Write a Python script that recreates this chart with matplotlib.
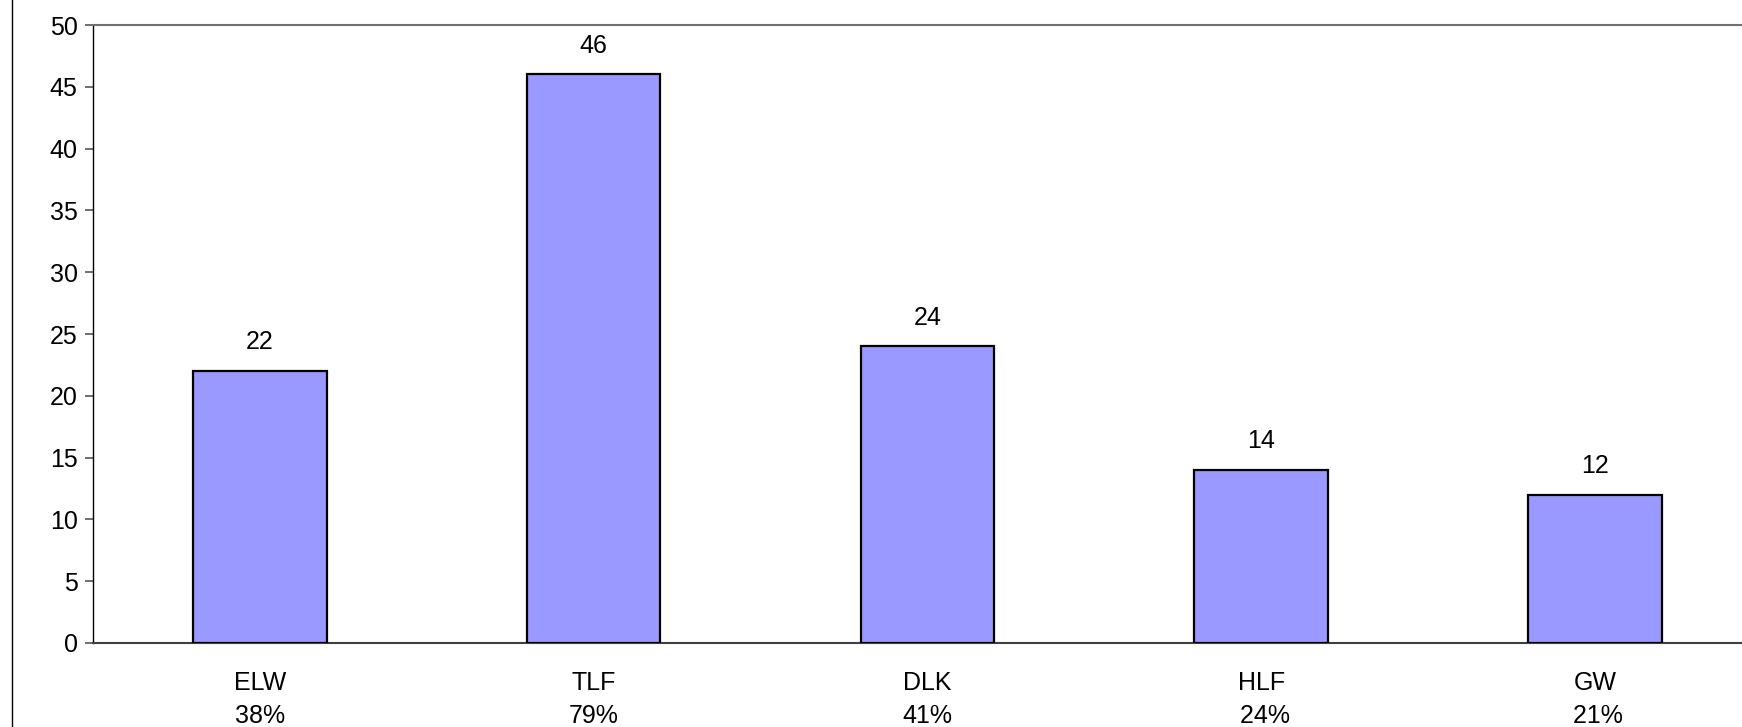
import matplotlib
matplotlib.use("Agg")
import matplotlib.pyplot as plt
from matplotlib.lines import Line2D

categories = ["ELW", "TLF", "DLK", "HLF", "GW"]
percent_labels = ["38%", "79%", "41%", " 24%", " 21%"]
values = [22, 46, 24, 14, 12]
yticks = [0, 5, 10, 15, 20, 25, 30, 35, 40, 45, 50]

plt.rcParams['font.family'] = ['Liberation Sans', 'DejaVu Sans']

W, H = 1742, 727
FS = 18
fig = plt.figure(figsize=(W / 100, H / 100), dpi=100)
ax = fig.add_axes([93 / W, 84 / H, 1668.75 / W, 618 / H])

x = list(range(len(categories)))
ax.bar(x, values, width=0.4, color="#9999FF", edgecolor="black", linewidth=1.6, zorder=3)
for xi, v in zip(x, values):
    ax.annotate(str(v), (xi, v), xytext=(0, 12), textcoords="offset points",
                ha="center", va="bottom", fontsize=FS, color="black")

ax.set_xlim(-0.5, 4.5)
ax.set_ylim(0, 50)
ax.set_yticks(yticks)
ax.set_yticklabels([str(t) for t in yticks], fontsize=FS)
ax.set_xticks(x)
ax.set_xticklabels([f"{c}\n{p}" for c, p in zip(categories, percent_labels)],
                   fontsize=FS, linespacing=1.5)
ax.tick_params(axis="x", length=0, pad=20)
ax.tick_params(axis="y", length=6, width=1.2, color="#555555", pad=5)

ax.spines["right"].set_visible(False)
ax.spines["top"].set_color("#707070")
ax.spines["top"].set_linewidth(1.5)
ax.spines["bottom"].set_color("#404040")
ax.spines["bottom"].set_linewidth(1.5)
ax.spines["left"].set_color("black")
ax.spines["left"].set_linewidth(1.0)

fig.add_artist(Line2D([11.5 / W, 11.5 / W], [0, 1], transform=fig.transFigure,
                      color="black", linewidth=1.0))

fig.savefig("out.png", dpi=100)
